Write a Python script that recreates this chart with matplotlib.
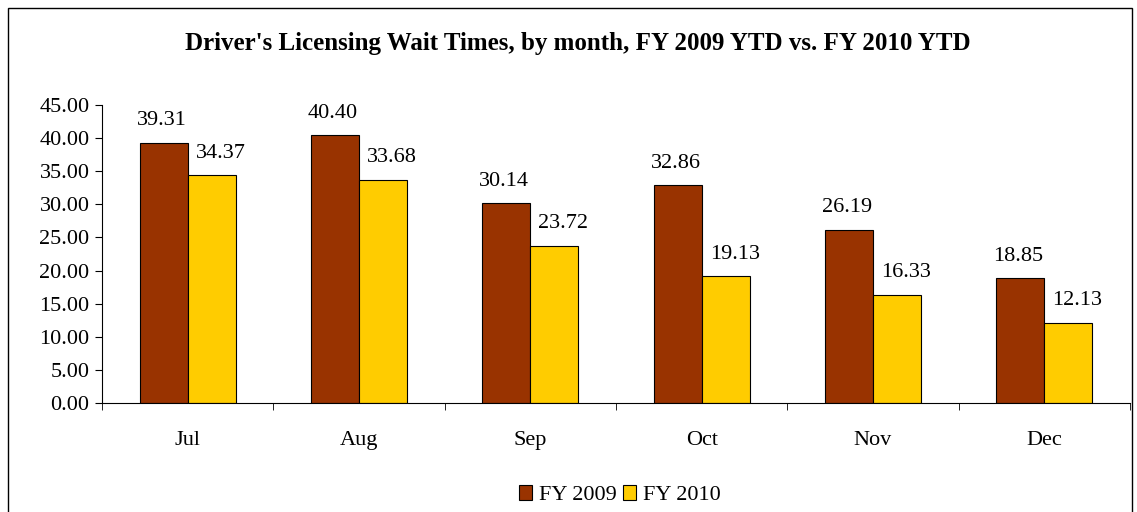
import matplotlib.pyplot as plt
import numpy as np
from matplotlib.patches import Rectangle

months = ['Jul', 'Aug', 'Sep', 'Oct', 'Nov', 'Dec']
fy2009 = [39.31, 40.40, 30.14, 32.86, 26.19, 18.85]
fy2010 = [34.37, 33.68, 23.72, 19.13, 16.33, 12.13]

plt.rcParams['font.family'] = ['Liberation Serif', 'DejaVu Serif']

fig = plt.figure(figsize=(11.37, 5.12), dpi=100)
ax = fig.add_axes([0.0897, 0.2129, 0.9041, 0.5821])

# outer chart border
fig.patches.append(Rectangle((0.007, -0.01), 0.989, 0.995, transform=fig.transFigure,
                             fill=False, edgecolor='black', linewidth=1.0))

x = np.arange(len(months))
w = 0.28
b1 = ax.bar(x - w / 2, fy2009, w, color='#993300', edgecolor='black', linewidth=0.8, label='FY 2009')
b2 = ax.bar(x + w / 2, fy2010, w, color='#FFCC00', edgecolor='black', linewidth=0.8, label='FY 2010')

# Excel nudges the second series' labels a bit to the right
for bars, vals, dx in ((b1, fy2009, -1.5), (b2, fy2010, 6.5)):
    for rect, v in zip(bars, vals):
        ax.annotate(f'{v:.2f}', (rect.get_x() + rect.get_width() / 2, v),
                    xytext=(dx, 9), textcoords='offset points',
                    ha='center', va='bottom', fontsize=16)

ax.set_xlim(-0.5, len(months) - 0.5)
ax.set_ylim(0, 45)
ax.set_yticks(np.arange(0, 46, 5))
ax.set_yticklabels([f'{t:.2f}' for t in np.arange(0, 46, 5)], fontsize=16)
ax.set_xticks(x)
ax.set_xticklabels(months, fontsize=16)
ax.set_xticks(np.arange(-0.5, len(months)), minor=True)
ax.tick_params(axis='x', which='major', length=0, pad=20)
ax.tick_params(axis='x', which='minor', length=5, direction='out')
ax.tick_params(axis='y', length=5, direction='out', pad=4)

ax.spines['top'].set_visible(False)
ax.spines['right'].set_visible(False)

fig.suptitle("Driver's Licensing Wait Times, by month, FY 2009 YTD vs. FY 2010 YTD",
             fontsize=18, fontweight='bold', x=0.508, y=0.937)

fig.legend(loc='lower center', bbox_to_anchor=(0.545, -0.026), ncol=2, frameon=False,
           fontsize=16, handlelength=0.6, handleheight=0.6, handletextpad=0.3, columnspacing=0.3)

fig.savefig('out.png', dpi=100)
